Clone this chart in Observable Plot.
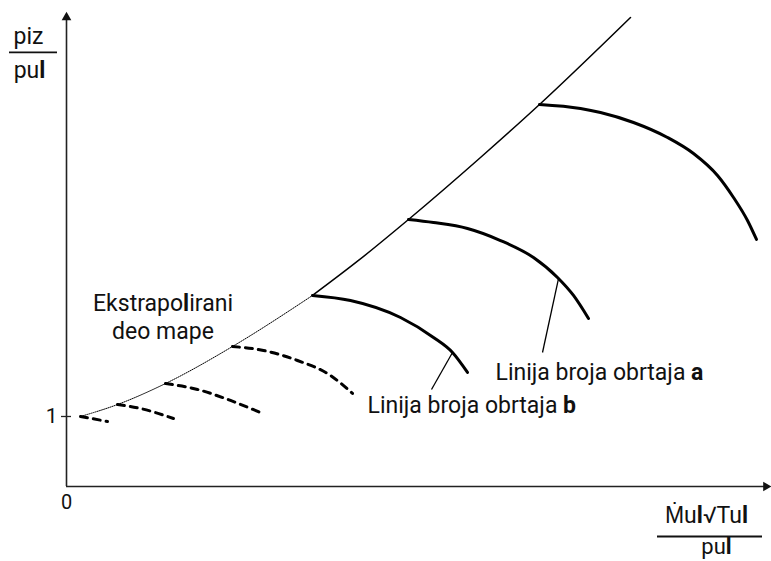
<!DOCTYPE html>
<html>
<head>
<meta charset="utf-8">
<script src="https://cdn.jsdelivr.net/npm/d3@7"></script>
<script src="https://cdn.jsdelivr.net/npm/@observablehq/plot@0.6"></script>
<style>
  html, body { margin: 0; padding: 0; background: #fff; }
  #chart svg { display: block; }
</style>
</head>
<body>
<div id="chart"></div>
<script>
// Surge line: extrapolated (dotted) and measured (solid) parts
const surgeExtrapolated = [
  {x: 0.14, y: 1.0}, {x: 0.51, y: 1.171}, {x: 0.99, y: 1.471},
  {x: 1.66, y: 2.0}, {x: 2.46, y: 2.729}
];
const surgeMeasured = [
  {x: 2.46, y: 2.729}, {x: 2.92, y: 3.229}, {x: 3.42, y: 3.814},
  {x: 4.14, y: 4.70}, {x: 4.73, y: 5.457}, {x: 5.64, y: 6.70}
];
// Speed lines (solid, measured)
const speedLow = [
  {x: 2.46, y: 2.729}, {x: 2.84, y: 2.657}, {x: 3.34, y: 2.414},
  {x: 3.67, y: 2.129}, {x: 3.86, y: 1.914}, {x: 4.01, y: 1.629}
];
const speedMid = [
  {x: 3.42, y: 3.814}, {x: 3.67, y: 3.771}, {x: 4.01, y: 3.686},
  {x: 4.34, y: 3.514}, {x: 4.67, y: 3.271}, {x: 4.91, y: 2.986},
  {x: 5.07, y: 2.729}, {x: 5.22, y: 2.40}
];
const speedHigh = [
  {x: 4.73, y: 5.457}, {x: 5.14, y: 5.40}, {x: 5.34, y: 5.343},
  {x: 5.67, y: 5.20}, {x: 6.01, y: 4.986}, {x: 6.27, y: 4.757},
  {x: 6.51, y: 4.443}, {x: 6.67, y: 4.129}, {x: 6.81, y: 3.80}, {x: 6.90, y: 3.529}
];
// Extrapolated speed lines (dashed)
const extra1 = [{x: 0.14, y: 1.0}, {x: 0.41, y: 0.929}];
const extra2 = [{x: 0.51, y: 1.171}, {x: 0.74, y: 1.114}, {x: 1.07, y: 0.971}];
const extra3 = [{x: 0.99, y: 1.471}, {x: 1.31, y: 1.386}, {x: 1.64, y: 1.229}, {x: 1.96, y: 1.043}];
const extra4 = [{x: 1.66, y: 2.0}, {x: 1.97, y: 1.943}, {x: 2.31, y: 1.80}, {x: 2.64, y: 1.586}, {x: 2.86, y: 1.329}];

// Leader lines for annotations
const leaders = [
  {x1: 4.92, y1: 2.97, x2: 4.76, y2: 1.914},
  {x1: 3.86, y1: 1.914, x2: 3.65, y2: 1.386}
];
// Annotation labels
const annotations = [
  {x: 4.29, y: 1.629, text: "Linija broja obrtaja a"},
  {x: 3.01, y: 1.157, text: "Linija broja obrtaja b"}
];
const regionLabel = [{x: 0.965, y: 2.429, text: "Ekstrapolirani\ndeo mape"}];

// Tick labels
const yTicks = [1];
const originLabel = ["0"];

// Axis titles (fractions)
const yTitleNum = "piz", yTitleDen = "pul";
const xTitleNum = "Ṁul√Tul", xTitleDen = "pul";

const X_MAX = 7.04, Y_MAX = 6.771;

const plot = Plot.plot({
  width: 771,
  height: 561,
  marginLeft: 66,
  marginRight: 1,
  marginTop: 12,
  marginBottom: 75,
  x: {domain: [0, X_MAX], axis: null},
  y: {domain: [0, Y_MAX], axis: null},
  style: {fontFamily: "Roboto, sans-serif", color: "#000", background: "#fff"},
  marks: [
    // axes
    Plot.ruleY([0], {x1: 0, x2: 7.03, stroke: "#222", strokeWidth: 1.6}),
    Plot.ruleX([0], {y1: 0, y2: 6.72, stroke: "#222", strokeWidth: 1.6}),
    Plot.dot([{x: 0, y: 6.70}], {x: "x", y: "y", symbol: "triangle", r: 3.6, fill: "#111", stroke: "none"}),
    Plot.dot([{x: 6.995, y: 0}], {x: "x", y: "y", symbol: "triangle", r: 3.6, fill: "#111", stroke: "none", rotate: 90}),
    // tick at y = 1
    Plot.ruleY(yTicks, {x1: -0.05, x2: 0.05, stroke: "#222", strokeWidth: 1.3}),
    Plot.text(yTicks, {x: -0.09, y: d => d, text: d => String(d), textAnchor: "end", fontSize: 21, fill: "#111"}),
    Plot.text(originLabel, {x: 0, y: -0.229, text: d => d, fontSize: 20, fill: "#111"}),
    // extrapolated dashed speed lines
    ...[extra1, extra2, extra3, extra4].map(arr =>
      Plot.line(arr, {x: "x", y: "y", curve: "monotone-x", stroke: "#000", strokeWidth: 3, strokeDasharray: "7,6"})
    ),
    // surge line
    Plot.line(surgeExtrapolated, {x: "x", y: "y", curve: "monotone-x", stroke: "#000", strokeWidth: 1, strokeDasharray: "1,1.2"}),
    Plot.line(surgeMeasured, {x: "x", y: "y", curve: "monotone-x", stroke: "#000", strokeWidth: 1.5}),
    // speed lines
    ...[speedLow, speedMid, speedHigh].map(arr =>
      Plot.line(arr, {x: "x", y: "y", curve: "monotone-x", stroke: "#000", strokeWidth: 3})
    ),
    // leaders
    Plot.link(leaders, {x1: "x1", y1: "y1", x2: "x2", y2: "y2", stroke: "#000", strokeWidth: 1.3}),
    // annotations
    Plot.text(annotations, {x: "x", y: "y", text: "text", textAnchor: "start", fontSize: 23, fill: "#111"}),
    Plot.text(regionLabel, {x: "x", y: "y", text: "text", fontSize: 23, lineHeight: 1.22, fill: "#111"}),
    // y axis title fraction
    Plot.text([yTitleNum], {x: -0.38, y: 6.43, text: d => d, fontSize: 23, fill: "#111"}),
    Plot.ruleY([6.20], {x1: -0.57, x2: -0.09, stroke: "#111", strokeWidth: 1.8}),
    Plot.text([yTitleDen], {x: -0.37, y: 5.943, text: d => d, fontSize: 23, fill: "#111"}),
    // x axis title fraction
    Plot.text([xTitleNum], {x: 6.40, y: -0.414, text: d => d, fontSize: 23, fill: "#111"}),
    Plot.ruleY([-0.714], {x1: 5.91, x2: 6.96, stroke: "#111", strokeWidth: 1.8}),
    Plot.text([xTitleDen], {x: 6.50, y: -0.87, text: d => d, fontSize: 22, fill: "#111"})
  ]
});

// Emulate the reference's typography: bold "l" glyphs and bold speed letters
d3.select(plot).selectAll("text").each(function() {
  const el = this;
  const tspans = el.querySelectorAll("tspan");
  const targets = tspans.length ? Array.from(tspans) : [el];
  const full = el.textContent;
  const boldLast = full.startsWith("Linija");
  for (const t of targets) {
    const s = t.textContent;
    t.textContent = "";
    for (let i = 0; i < s.length; i++) {
      const ch = s[i];
      const isBold = ch === "l" || (boldLast && i === s.length - 1);
      if (isBold) {
        const sp = document.createElementNS("http://www.w3.org/2000/svg", "tspan");
        sp.setAttribute("font-weight", "bold");
        sp.textContent = ch;
        t.appendChild(sp);
      } else {
        t.appendChild(document.createTextNode(ch));
      }
    }
  }
});

document.getElementById("chart").appendChild(plot);
</script>
</body>
</html>
